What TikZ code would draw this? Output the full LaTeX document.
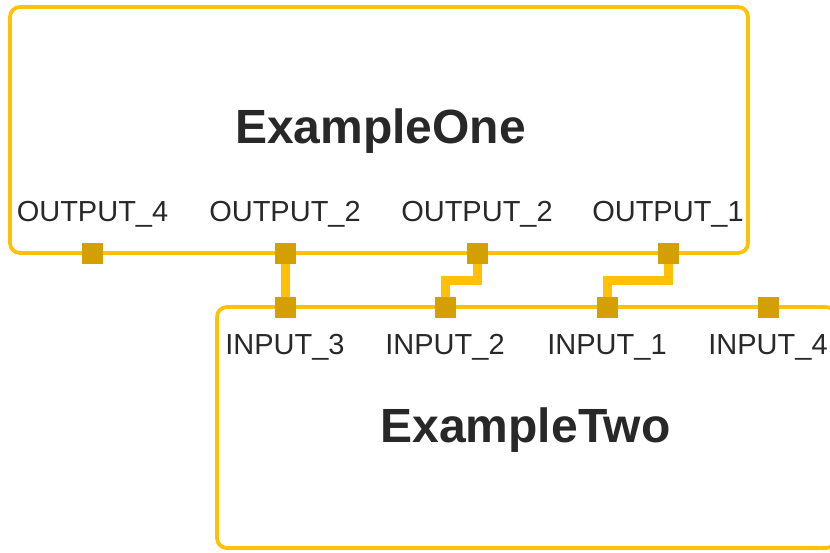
\documentclass[tikz,border=0pt]{standalone}
\usepackage{fontspec}
\setmainfont{Liberation Sans}
\definecolor{amber}{RGB}{255,193,7}
\definecolor{portfill}{RGB}{212,160,0}
\definecolor{ink}{RGB}{40,40,40}
\begin{document}
\begin{tikzpicture}[x=1pt, y=-1pt,
    block/.style={draw=amber, line width=3.8pt, rounded corners=10pt, inner sep=0pt},
    port/.style={fill=portfill, minimum size=21pt, inner sep=0pt},
    wire/.style={draw=amber, line width=9pt},
    plabel/.style={anchor=base, inner sep=0pt, text=ink, font=\fontsize{29}{34}\selectfont},
    title/.style={anchor=base, inner sep=0pt, text=ink, font=\bfseries\fontsize{48}{56}\selectfont}]
        \useasboundingbox (0,0) rectangle (830,552);
        \node[block, minimum width=738pt, minimum height=246pt] (one) at (379,130) {};
        \node[block, minimum width=619pt, minimum height=241pt] (two) at (526.5,427.5) {};
        \node[title] (t1) at (380.5,143) {ExampleOne};
        \node[title] (t2) at (525.5,442) {ExampleTwo};
        
        \coordinate (o4) at (92.5,253);
        \coordinate (o2) at (285,253);
        \coordinate (o2b) at (477,253);
        \coordinate (o1) at (668,253);
        \coordinate (i3) at (285,307);
        \coordinate (i2) at (445,307);
        \coordinate (i1) at (607,307);
        \coordinate (i4) at (768,307);
        
        \draw[wire] (o2) -- (i3);
        \draw[wire] (o2b) -- ++(0,27) -| (i2);
        \draw[wire] (o1) -- ++(0,27) -| (i1);
        
        \node[port] (p4) at (o4) {};
        \node[port] (p2) at (o2) {};
        \node[port] (p2b) at (o2b) {};
        \node[port] (p1) at (o1) {};
        \node[port] (q3) at (i3) {};
        \node[port] (q2) at (i2) {};
        \node[port] (q1) at (i1) {};
        \node[port] (q4) at (i4) {};
        
        \node[plabel] (l4) at (92.5,221) {OUTPUT\_4};
        \node[plabel] (l2) at (285,221) {OUTPUT\_2};
        \node[plabel] (l2b) at (477,221) {OUTPUT\_2};
        \node[plabel] (l1) at (668,221) {OUTPUT\_1};
        \node[plabel] (m3) at (285,354) {INPUT\_3};
        \node[plabel] (m2) at (445,354) {INPUT\_2};
        \node[plabel] (m1) at (607,354) {INPUT\_1};
        \node[plabel] (m4) at (768,354) {INPUT\_4};
      \end{tikzpicture}
\end{document}
